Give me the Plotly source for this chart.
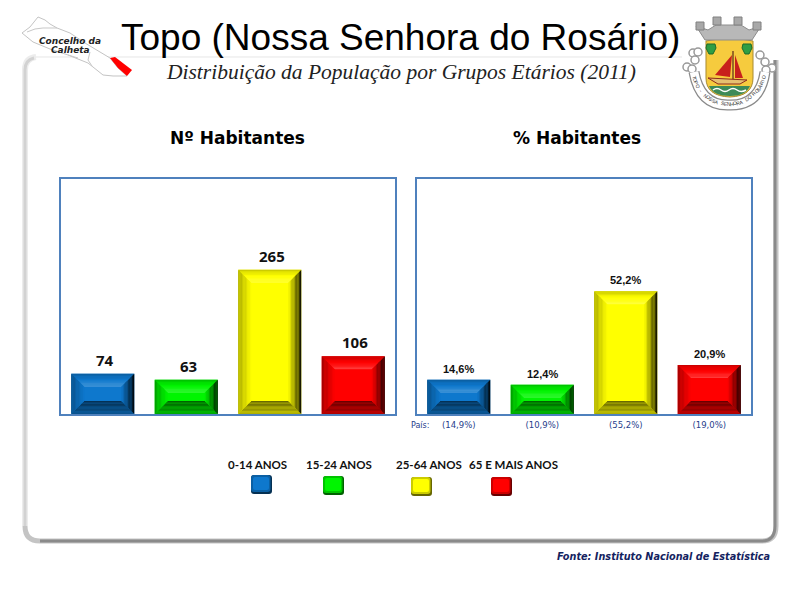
import math
import plotly.graph_objects as go

categories = ['0-14 ANOS', '15-24 ANOS', '25-64 ANOS', '65 E MAIS ANOS']
habitantes = [74, 63, 265, 106]
percent = [14.6, 12.4, 52.2, 20.9]
percent_labels = ['14,6%', '12,4%', '52,2%', '20,9%']
pais_labels = ['(14,9%)', '(10,9%)', '(55,2%)', '(19,0%)']
colors = [(14, 120, 205), (0, 245, 0), (255, 255, 0), (255, 0, 0)]

left_max = 432
right_max = 100

legend_text_x = [258, 339, 429, 514]
legend_box_x = [251, 323, 411, 491]
legend_box_y = [475, 476, 477, 477]

map_outline = [(22, 33), (30, 27), (38, 17), (45, 20), (50, 24), (57, 28), (70, 33), (85, 43),
               (100, 52), (110, 58), (118, 68), (127, 76), (113, 76), (103, 75), (88, 63),
               (68, 55), (50, 49), (33, 42)]
map_red = [(110, 58), (115, 57), (132, 70), (127, 76), (118, 68)]
ribbon_text = 'TOPO - NOSSA SENHORA DO ROSÁRIO'
rope_knots = [(693, 53), (698, 52), (695, 60), (687, 67), (692, 69), (760, 55), (765, 62), (772, 68), (766, 70)]

# the page has an 8px body margin, so the figure is 792x592 and sits at (8, 8)
MARGIN = 8
FIG_W = 800 - MARGIN
FIG_H = 600 - MARGIN


def X(px):
    return (px - MARGIN) / FIG_W


def Y(py):
    return 1 - (py - MARGIN) / FIG_H


def poly(points):
    return 'M' + ' L'.join(f'{x},{y}' for x, y in points) + ' Z'


def pxpath(d):
    # path written in picture pixels, converted to paper coordinates
    out = []
    for tok in d.split():
        if ',' in tok:
            a, b = tok.split(',')
            out.append(f'{X(float(a)):.5f},{Y(float(b)):.5f}')
        else:
            out.append(tok)
    return ' '.join(out)


def shade(rgb, f):
    if f <= 1:
        c = [v * f for v in rgb]
    else:
        c = [v + (255 - v) * (f - 1) for v in rgb]
    return 'rgb(%d,%d,%d)' % tuple(c)


def bevel(fig, x0, x1, y0, y1, dx, dy, rgb, xref, yref, steps=10):
    sides = {'top': (0.78, 1.25), 'left': (0.65, 1.0), 'right': (0.05, 1.0), 'bottom': (0.7, 0.4)}
    for i in range(steps):
        a, b = i / steps, (i + 1) / steps
        xa0, xa1, ya0, ya1 = x0 + dx * a, x1 - dx * a, y0 + dy * a, y1 - dy * a
        xb0, xb1, yb0, yb1 = x0 + dx * b, x1 - dx * b, y0 + dy * b, y1 - dy * b
        quads = {
            'top': [(xa0, ya1), (xa1, ya1), (xb1, yb1), (xb0, yb1)],
            'bottom': [(xa0, ya0), (xa1, ya0), (xb1, yb0), (xb0, yb0)],
            'left': [(xa0, ya0), (xa0, ya1), (xb0, yb1), (xb0, yb0)],
            'right': [(xa1, ya0), (xa1, ya1), (xb1, yb1), (xb1, yb0)],
        }
        for side, pts in quads.items():
            f0, f1 = sides[side]
            f = f0 + (f1 - f0) * (a + b) / 2
            fig.add_shape(type='path', path=poly(pts), xref=xref, yref=yref,
                          fillcolor=shade(rgb, f), line_width=0, layer='above')


def label(px, py, text, size, color='black', family='Liberation Sans', angle=0):
    fig.add_annotation(x=X(px), y=Y(py), xref='paper', yref='paper', text=text, showarrow=False,
                       xanchor='center', yanchor='middle', textangle=angle,
                       font=dict(size=size, color=color, family=family))


def deco(d, fill=None, line=None, width=1, layer='above'):
    fig.add_shape(type='path', path=pxpath(d), xref='paper', yref='paper',
                  fillcolor=fill if fill else 'rgba(0,0,0,0)',
                  line=dict(color=line if line else 'rgba(0,0,0,0)', width=width if line else 0), layer=layer)


def pxpoly(points):
    return 'M ' + ' L '.join(f'{x},{y}' for x, y in points) + ' Z'


def rounded(x0, y0, x1, y1, r):
    return (f'M {x0 + r},{y0} L {x1 - r},{y0} Q {x1},{y0} {x1},{y0 + r} L {x1},{y1 - r} Q {x1},{y1} {x1 - r},{y1} '
            f'L {x0 + r},{y1} Q {x0},{y1} {x0},{y1 - r} L {x0},{y0 + r} Q {x0},{y0} {x0 + r},{y0} Z')


fig = go.Figure()
fig.add_trace(go.Bar(x=categories, y=habitantes, marker_color=[shade(c, 1) for c in colors],
                     marker_line_width=0, width=0.755, xaxis='x', yaxis='y', showlegend=False))
fig.add_trace(go.Bar(x=categories, y=percent, marker_color=[shade(c, 1) for c in colors],
                     marker_line_width=0, width=0.755, xaxis='x2', yaxis='y2', showlegend=False))

# outer panel
deco('M 30,57 L 682,57', line='#e6e6e6', width=1, layer='below')
deco('M 25,526 L 25,70 Q 25,58 36,57', line='#ececec', width=6, layer='below')
deco('M 25,526 L 25,70 Q 25,60 34,58', line='#d2d2d2', width=3, layer='below')
deco('M 25,526 Q 25,541 40,541 L 762,541 Q 776,541 776,526 L 776,60', line='#c4c4c4', width=5, layer='below')
deco('M 40,541 L 762,541 Q 775,541 775,526 L 775,60', line='#8a8a8a', width=3, layer='below')

# bevels on the bars, from the same values as the bars
for i, v in enumerate(habitantes):
    bevel(fig, i - 0.3775, i + 0.3775, 0, v, 13 / 83.5, 13 * left_max / 235, colors[i], 'x', 'y')
    fig.add_annotation(x=i, y=v, xref='x', yref='y', text=f'<b>{v}</b>', showarrow=False,
                       yshift=14, xshift=2, font=dict(size=15, family='Open Sans', color='#111111'))
for i, v in enumerate(percent):
    bevel(fig, i - 0.3775, i + 0.3775, 0, v, 13 / 83.5, 13 * right_max / 235, colors[i], 'x2', 'y2')
    fig.add_annotation(x=i, y=v, xref='x2', yref='y2', text=f'<b>{percent_labels[i]}</b>', showarrow=False,
                       yshift=11, font=dict(size=11, family='Liberation Sans', color='#111111'))

# legend swatches
for i, name in enumerate(categories):
    label(legend_text_x[i], 464, f'<b>{name}</b>', 11.5, '#111111', 'Lato')
    bx, by = legend_box_x[i], legend_box_y[i]
    deco(rounded(bx, by, bx + 21, by + 19, 3), fill=shade(colors[i], 0.4))
    deco(rounded(bx, by, bx + 19.5, by + 17, 3), fill=shade(colors[i], 0.8))
    deco(rounded(bx + 2, by + 2, bx + 18, by + 15, 2), fill=shade(colors[i], 1))

label(400, 37, 'Topo (Nossa Senhora do Rosário)', 37)
label(401, 72, '<i>Distribuição da População por Grupos Etários (2011)</i>', 21.5, '#222222', 'Liberation Serif')
label(237, 138, '<b>Nº Habitantes</b>', 17, 'black', 'DejaVu Sans')
label(577, 138, '<b>% Habitantes</b>', 17, 'black', 'DejaVu Sans')
label(420, 425, 'País:', 8, '#27408b', 'DejaVu Sans')
label(663, 556, '<b><i>Fonte: Instituto Nacional de Estatística</i></b>', 9.7, '#14235f', 'DejaVu Sans')

# map of the concelho
deco(pxpoly(map_outline), fill='white', line='#c4c4c4', width=1)
deco('M 27,32 Q 35,28 43,28 L 57,28', line='#c8c8c8')
deco('M 90,52 L 88,60 L 92,66', line='#c8c8c8')
deco('M 68,55 L 78,58', line='#c8c8c8')
deco(pxpoly(map_red), fill='#ff0000')
label(70, 41, '<b><i>Concelho da</i></b>', 9, '#222222', 'DejaVu Sans')
label(70, 50, '<b><i>Calheta</i></b>', 9, '#222222', 'DejaVu Sans')

# coat of arms
for kx, ky in rope_knots:
    fig.add_shape(type='circle', x0=X(kx - 4), x1=X(kx + 4), y0=Y(ky + 4), y1=Y(ky - 4), xref='paper', yref='paper',
                  fillcolor='white', line=dict(color='#999999', width=1.5), layer='above')
deco('M 694,72 Q 700,106 729,105 Q 760,106 765,72', line='#8a8a8a', width=11)
deco('M 694,72 Q 700,106 729,105 Q 760,106 765,72', line='white', width=8.5)
for n, ch in enumerate(ribbon_text):
    a = math.radians(-75 + 150 * n / (len(ribbon_text) - 1))
    label(729 + 36 * math.sin(a), 68 + 36 * math.cos(a), ch, 5, '#333333', 'Liberation Sans', angle=-math.degrees(a))
deco('M 706,41 Q 730,36 753,41 L 753,78 Q 753,96 730,97 Q 706,96 706,78 Z', fill='#f6cb3e', line='#a88a30', width=1)
deco('M 709,86 L 750,86 Q 746,96 730,96 Q 713,96 709,86 Z', fill='#3e8a58')
deco('M 713,90 Q 717,87 721,90 Q 725,93 729,90 Q 733,87 737,90 Q 741,93 746,90', line='white', width=1.5)
deco(pxpoly([(732, 55), (715, 75), (730, 77)]), fill='#c8201c')
deco(pxpoly([(735, 55), (743, 78), (735, 78)]), fill='#c8201c')
deco('M 733,51 L 733,82', line='#7a4a20', width=1.5)
deco(pxpoly([(708, 78), (747, 80), (740, 84), (718, 84)]), fill='#e6c070', line='#8c2a1a')
for jx in (711, 747):
    deco(pxpoly([(jx - 4, 44), (jx + 4, 44), (jx + 5, 48), (jx + 2, 54), (jx - 2, 54), (jx - 5, 48)]), fill='#2f9e44', line='#1c6b2c')
deco(pxpoly([(705, 40), (696, 26), (708, 30), (716, 25), (741, 25), (749, 30), (761, 26), (752, 40)]),
     fill='#b8b8b8', line='#8c8c8c')
for tx, ty in [(700, 22), (717, 17), (738, 17), (757, 22)]:
    fig.add_shape(type='rect', x0=X(tx - 4), x1=X(tx + 4), y0=Y(ty + 8), y1=Y(ty), xref='paper', yref='paper',
                  fillcolor='#a8a8a8', line=dict(color='#808080', width=1), layer='above')

common = dict(showgrid=False, zeroline=False, showline=True, mirror=True, linecolor='#4f81bd', linewidth=2)
fig.update_layout(
    width=FIG_W, height=FIG_H, autosize=False,
    margin=dict(l=0, r=0, t=0, b=0),
    paper_bgcolor='white', plot_bgcolor='white',
    showlegend=False,
    xaxis=dict(domain=[X(61), X(395)], anchor='y', type='category', range=[-0.5, 3.5], showticklabels=False, ticks='', **common),
    yaxis=dict(domain=[Y(414), Y(179)], anchor='x', range=[0, left_max], showticklabels=False, ticks='', **common),
    xaxis2=dict(domain=[X(417), X(751)], anchor='y2', type='category', range=[-0.5, 3.5], ticks='',
                tickmode='array', tickvals=categories, ticktext=pais_labels, ticklabelstandoff=2,
                tickfont=dict(size=8.5, color='#27408b', family='DejaVu Sans'), **common),
    yaxis2=dict(domain=[Y(414), Y(179)], anchor='x2', range=[0, right_max], showticklabels=False, ticks='', **common),
)

fig.write_html("out.html")
